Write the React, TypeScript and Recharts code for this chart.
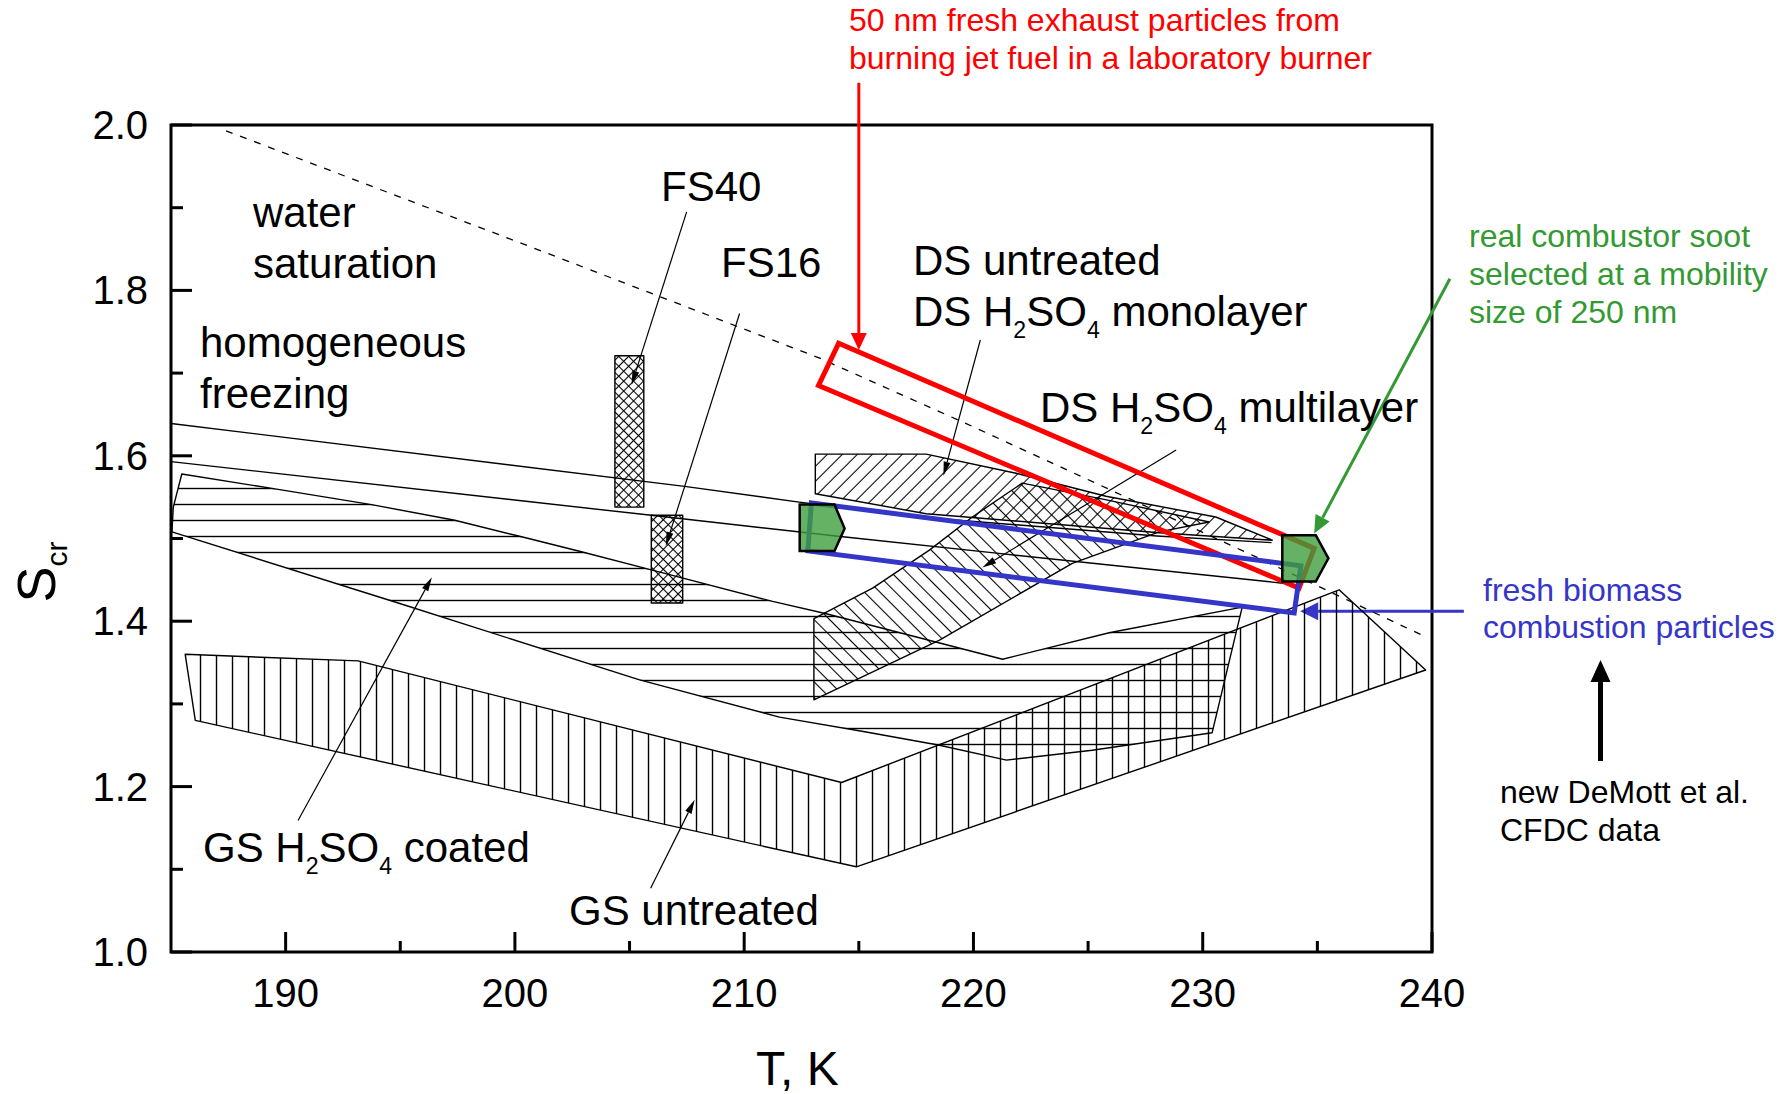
import React from 'react';
import { ComposedChart, XAxis, YAxis, Scatter, ReferenceLine, ReferenceArea } from 'recharts';

interface Pt { x: number; y: number }

const FONT = '"Liberation Sans", Arial, Helvetica, sans-serif';

const xTicks = [190, 195, 200, 205, 210, 215, 220, 225, 230, 235, 240];
const yTicks = [1.0, 1.1, 1.2, 1.3, 1.4, 1.5, 1.6, 1.7, 1.8, 1.9, 2.0];

// water saturation (dashed)
const waterSaturation: Pt[] = [
  { x: 187.4, y: 1.993 }, { x: 200.0, y: 1.86 }, { x: 213.3, y: 1.718 },
  { x: 220.0, y: 1.635 }, { x: 232.3, y: 1.478 }, { x: 239.8, y: 1.38 },
];

// homogeneous freezing, two thresholds
const homFreezingUpper: Pt[] = [
  { x: 185.0, y: 1.639 }, { x: 207.4, y: 1.563 }, { x: 212.4, y: 1.544 },
  { x: 218.0, y: 1.525 }, { x: 228.0, y: 1.503 }, { x: 233.0, y: 1.495 },
];
const homFreezingLower: Pt[] = [
  { x: 185.0, y: 1.593 }, { x: 205.95, y: 1.528 }, { x: 214.3, y: 1.502 },
  { x: 221.1, y: 1.482 }, { x: 233.5, y: 1.446 },
];

// GS untreated (vertical hatch)
const gsUntreated: Pt[] = [
  { x: 185.62, y: 1.36 }, { x: 193.16, y: 1.352 }, { x: 214.25, y: 1.205 },
  { x: 235.95, y: 1.438 }, { x: 239.72, y: 1.341 }, { x: 214.89, y: 1.103 },
  { x: 186.06, y: 1.28 },
];

// GS H2SO4 coated (horizontal hatch)
const gsCoated: Pt[] = [
  { x: 185.47, y: 1.578 }, { x: 189.54, y: 1.56 }, { x: 193.75, y: 1.541 },
  { x: 197.38, y: 1.522 }, { x: 200.29, y: 1.502 }, { x: 202.9, y: 1.484 },
  { x: 205.95, y: 1.462 }, { x: 211.24, y: 1.424 }, { x: 213.58, y: 1.409 },
  { x: 221.27, y: 1.354 }, { x: 225.92, y: 1.386 }, { x: 231.72, y: 1.417 },
  { x: 230.41, y: 1.265 }, { x: 225.18, y: 1.244 }, { x: 221.44, y: 1.232 },
  { x: 218.52, y: 1.25 }, { x: 215.32, y: 1.266 }, { x: 211.54, y: 1.284 },
  { x: 205.44, y: 1.329 }, { x: 194.91, y: 1.422 }, { x: 185.04, y: 1.508 },
  { x: 185.1, y: 1.538 },
];

// flame soot boxes (cross hatch)
const fs40: Pt[] = [
  { x: 204.36, y: 1.721 }, { x: 205.62, y: 1.721 }, { x: 205.62, y: 1.538 }, { x: 204.36, y: 1.538 },
];
const fs16: Pt[] = [
  { x: 205.95, y: 1.528 }, { x: 207.32, y: 1.528 }, { x: 207.32, y: 1.422 }, { x: 205.95, y: 1.422 },
];

// diesel soot
const dsUntreated: Pt[] = [
  { x: 213.1, y: 1.602 }, { x: 217.94, y: 1.602 }, { x: 221.86, y: 1.579 },
  { x: 225.78, y: 1.551 }, { x: 230.57, y: 1.526 }, { x: 233.03, y: 1.498 },
  { x: 228.1, y: 1.507 }, { x: 217.94, y: 1.53 }, { x: 213.1, y: 1.554 },
];
const dsMultilayer: Pt[] = [
  { x: 213.04, y: 1.305 }, { x: 213.04, y: 1.403 }, { x: 215.6, y: 1.44 },
  { x: 218.08, y: 1.486 }, { x: 219.95, y: 1.526 }, { x: 222.13, y: 1.567 },
  { x: 225.75, y: 1.547 }, { x: 230.28, y: 1.52 }, { x: 228.1, y: 1.508 },
  { x: 224.31, y: 1.47 }, { x: 218.52, y: 1.377 },
];

// new DeMott et al. CFDC data
const jetFuelBox: Pt[] = [
  { x: 214.12, y: 1.736 }, { x: 213.24, y: 1.685 }, { x: 234.2, y: 1.44 }, { x: 234.86, y: 1.488 },
];
const biomassBox: Pt[] = [
  { x: 212.93, y: 1.543 }, { x: 234.28, y: 1.467 }, { x: 233.99, y: 1.41 }, { x: 212.78, y: 1.485 },
];
const biomassMark: Pt[] = [
  { x: 212.42, y: 1.541 }, { x: 213.94, y: 1.541 }, { x: 214.38, y: 1.512 },
  { x: 213.94, y: 1.485 }, { x: 212.42, y: 1.485 },
];
const combustorMark: Pt[] = [
  { x: 233.47, y: 1.504 }, { x: 234.93, y: 1.504 }, { x: 235.48, y: 1.476 },
  { x: 234.93, y: 1.448 }, { x: 233.47, y: 1.448 },
];

// leader arrows [tail, tip]
const leaderFS40: Pt[] = [{ x: 207.49, y: 1.895 }, { x: 205.09, y: 1.686 }];
const leaderFS16: Pt[] = [{ x: 209.8, y: 1.772 }, { x: 206.58, y: 1.491 }];
const leaderDSMono: Pt[] = [{ x: 220.3, y: 1.74 }, { x: 218.69, y: 1.576 }];
const leaderDSMulti: Pt[] = [{ x: 228.84, y: 1.607 }, { x: 220.39, y: 1.465 }];
const leaderGSCoated: Pt[] = [{ x: 190.54, y: 1.159 }, { x: 196.38, y: 1.453 }];
const leaderGSUntreated: Pt[] = [{ x: 205.92, y: 1.077 }, { x: 207.84, y: 1.184 }];
const arrowJetFuel: Pt[] = [{ x: 215.0, y: 2.051 }, { x: 215.0, y: 1.728 }];
const arrowCombustor: Pt[] = [{ x: 240.78, y: 1.814 }, { x: 234.86, y: 1.506 }];
const arrowBiomass: Pt[] = [{ x: 241.39, y: 1.412 }, { x: 234.25, y: 1.412 }];
const arrowDeMott: Pt[] = [{ x: 247.35, y: 1.231 }, { x: 247.35, y: 1.353 }];

function pathOf(points: Pt[], closed: boolean) {
  return points.map((p, i) => `${i ? 'L' : 'M'}${p.x.toFixed(1)},${p.y.toFixed(1)}`).join(' ') + (closed ? ' Z' : '');
}

function hatchPattern(id: string, kind: string, gap: number) {
  const rot = kind === 'fw' || kind === 'x' ? 45 : kind === 'bw' ? -45 : 0;
  // straight hatches sit on the pixel grid so they stay crisp
  const c = rot ? gap / 2 : Math.floor(gap / 2) + 0.5;
  const sw = rot ? 1.1 : 1.4;
  return (
    <pattern id={id} patternUnits="userSpaceOnUse" width={gap} height={gap}
      patternTransform={rot ? `rotate(${rot})` : undefined}>
      {kind !== 'h' && <line x1={c} y1={0} x2={c} y2={gap} stroke="#000" strokeWidth={sw} />}
      {(kind === 'h' || kind === 'x') && <line x1={0} y1={c} x2={gap} y2={c} stroke="#000" strokeWidth={sw} />}
    </pattern>
  );
}

const region = (id: string, kind: string, gap: number) => (props: any) => (
  <g>
    <defs>{hatchPattern(id, kind, gap)}</defs>
    <path d={pathOf(props.points || [], true)} fill={`url(#${id})`} stroke="#000" strokeWidth={1.4} strokeLinejoin="round" />
  </g>
);

const curve = (color: string, width: number, dash?: string) => (props: any) => (
  <path d={pathOf(props.points || [], false)} fill="none" stroke={color} strokeWidth={width} strokeDasharray={dash} />
);

const outline = (color: string, width: number) => (props: any) => (
  <path d={pathOf(props.points || [], true)} fill="none" stroke={color} strokeWidth={width} strokeLinejoin="miter" />
);

const marker = (props: any) => (
  <path d={pathOf(props.points || [], true)} fill="#3f9f3f" fillOpacity={0.8} stroke="#000" strokeWidth={2.5} strokeLinejoin="miter" />
);

const noDot = () => <g />;

const arrowShape = (color: string, width: number, headLen: number, headW: number) => (p: any) => {
  const { x1, y1, x2, y2 } = p;
  const a = Math.atan2(y2 - y1, x2 - x1);
  const bx = x2 - headLen * Math.cos(a);
  const by = y2 - headLen * Math.sin(a);
  const nx = (-Math.sin(a) * headW) / 2;
  const ny = (Math.cos(a) * headW) / 2;
  return (
    <g>
      <line x1={x1} y1={y1} x2={bx} y2={by} stroke={color} strokeWidth={width} />
      <path d={`M${x2},${y2} L${bx + nx},${by + ny} L${bx - nx},${by - ny} Z`} fill={color} />
    </g>
  );
};

const XTick = (props: any) => {
  const { x, y, payload } = props;
  const v = payload.value as number;
  const major = v % 10 === 0;
  return (
    <g>
      <line x1={x} y1={y} x2={x} y2={y - (major ? 20 : 11)} stroke="#000" strokeWidth={3} />
      {major && (
        <text x={x} y={y + 55} textAnchor="middle" fontSize={40} fontFamily={FONT} fill="#000">{v}</text>
      )}
    </g>
  );
};

const YTick = (props: any) => {
  const { x, y, payload } = props;
  const v = payload.value as number;
  const major = Math.round(v * 10) % 2 === 0;
  return (
    <g>
      <line x1={x} y1={y} x2={x + (major ? 21 : 12)} y2={y} stroke="#000" strokeWidth={3} />
      {major && (
        <text x={x - 23} y={y + 14} textAnchor="end" fontSize={40} fontFamily={FONT} fill="#000">{v.toFixed(1)}</text>
      )}
    </g>
  );
};

const Sub = ({ children }: { children: React.ReactNode }) => (
  <span style={{ fontSize: '0.55em', position: 'relative', top: '0.5em' }}>{children}</span>
);

const Label = ({ left, top, size, color = '#000', children }: any) => (
  <div style={{ position: 'absolute', left, top, fontSize: size, lineHeight: 1.15, color, fontFamily: FONT, whiteSpace: 'nowrap' }}>
    {children}
  </div>
);

const series: { data: Pt[]; line: any }[] = [
  { data: gsUntreated, line: region('hatch-gs-untreated', 'v', 16) },
  { data: gsCoated, line: region('hatch-gs-coated', 'h', 16) },
  { data: dsMultilayer, line: region('hatch-ds-multi', 'bw', 11) },
  { data: dsUntreated, line: region('hatch-ds-untreated', 'fw', 10.6) },
  { data: fs40, line: region('hatch-fs40', 'x', 7) },
  { data: fs16, line: region('hatch-fs16', 'x', 7) },
  { data: waterSaturation, line: curve('#000', 1.3, '7 8') },
  { data: homFreezingUpper, line: curve('#000', 1.4) },
  { data: homFreezingLower, line: curve('#000', 1.4) },
  { data: jetFuelBox, line: outline('#ff0000', 5) },
  { data: biomassBox, line: outline('#3535c8', 5) },
  { data: biomassMark, line: marker },
  { data: combustorMark, line: marker },
];

const leaders = [leaderFS40, leaderFS16, leaderDSMono, leaderDSMulti, leaderGSCoated, leaderGSUntreated];

export default function App() {
  return (
    <div style={{ position: 'relative', width: 1785, height: 1094, background: '#fff' }}>
      <style>{'body{margin:0}'}</style>
      <ComposedChart width={1785} height={1094} margin={{ top: 125, right: 353, bottom: 141, left: 170 }}>
        <XAxis type="number" dataKey="x" domain={[185, 240]} ticks={xTicks} interval={0} allowDataOverflow
          axisLine={false} tickLine={false} tickSize={0} tickMargin={0} height={1} tick={XTick} />
        <YAxis type="number" dataKey="y" domain={[1, 2]} ticks={yTicks} interval={0} allowDataOverflow
          axisLine={false} tickLine={false} tickSize={0} tickMargin={0} width={1} tick={YTick} />
        <ReferenceArea x1={185} x2={240} y1={1} y2={2} fill="none" stroke="#000" strokeWidth={3} ifOverflow="visible" />
        {series.map((s, i) => (
          <Scatter key={i} data={s.data} line={s.line} shape={noDot} isAnimationActive={false} />
        ))}
        {leaders.map((seg, i) => (
          <ReferenceLine key={`l${i}`} segment={seg} ifOverflow="visible" shape={arrowShape('#000', 1.2, 14, 7)} />
        ))}
        <ReferenceLine segment={arrowJetFuel} ifOverflow="visible" shape={arrowShape('#ff0000', 3, 17, 16)} />
        <ReferenceLine segment={arrowCombustor} ifOverflow="visible" shape={arrowShape('#339933', 3, 18, 16)} />
        <ReferenceLine segment={arrowBiomass} ifOverflow="visible" shape={arrowShape('#3535c8', 3, 18, 18)} />
        <ReferenceLine segment={arrowDeMott} ifOverflow="visible" shape={arrowShape('#000', 5, 22, 20)} />
      </ComposedChart>

      <Label left={253} top={189} size={42}>water</Label>
      <Label left={253} top={240} size={42}>saturation</Label>
      <Label left={200} top={319} size={42}>homogeneous</Label>
      <Label left={200} top={370} size={42}>freezing</Label>
      <Label left={661} top={163} size={42}>FS40</Label>
      <Label left={721} top={239} size={42}>FS16</Label>
      <Label left={913} top={237} size={42}>DS untreated</Label>
      <Label left={913} top={288} size={42}>DS H<Sub>2</Sub>SO<Sub>4</Sub> monolayer</Label>
      <Label left={1040} top={384} size={42}>DS H<Sub>2</Sub>SO<Sub>4</Sub> multilayer</Label>
      <Label left={203} top={824} size={42}>GS H<Sub>2</Sub>SO<Sub>4</Sub> coated</Label>
      <Label left={569} top={887} size={42}>GS untreated</Label>

      <Label left={849} top={2} size={32} color="#ff0000">50 nm fresh exhaust particles from</Label>
      <Label left={849} top={40} size={32} color="#ff0000">burning jet fuel in a laboratory burner</Label>
      <Label left={1469} top={218} size={32} color="#339933">real combustor soot</Label>
      <Label left={1469} top={256} size={32} color="#339933">selected at a mobility</Label>
      <Label left={1469} top={294} size={32} color="#339933">size of 250 nm</Label>
      <Label left={1483} top={572} size={32} color="#3535c8">fresh biomass</Label>
      <Label left={1483} top={609} size={32} color="#3535c8">combustion particles</Label>
      <Label left={1500} top={774} size={32}>new DeMott et al.</Label>
      <Label left={1500} top={812} size={32}>CFDC data</Label>

      <Label left={756} top={1041} size={48}>T, K</Label>
      <div style={{ position: 'absolute', left: 36, top: 572, transform: 'translate(-50%, -50%) rotate(-90deg)', fontFamily: FONT, fontSize: 54, lineHeight: 1, whiteSpace: 'nowrap' }}>
        S<span style={{ fontSize: 30, position: 'relative', top: 12 }}>cr</span>
      </div>
    </div>
  );
}
